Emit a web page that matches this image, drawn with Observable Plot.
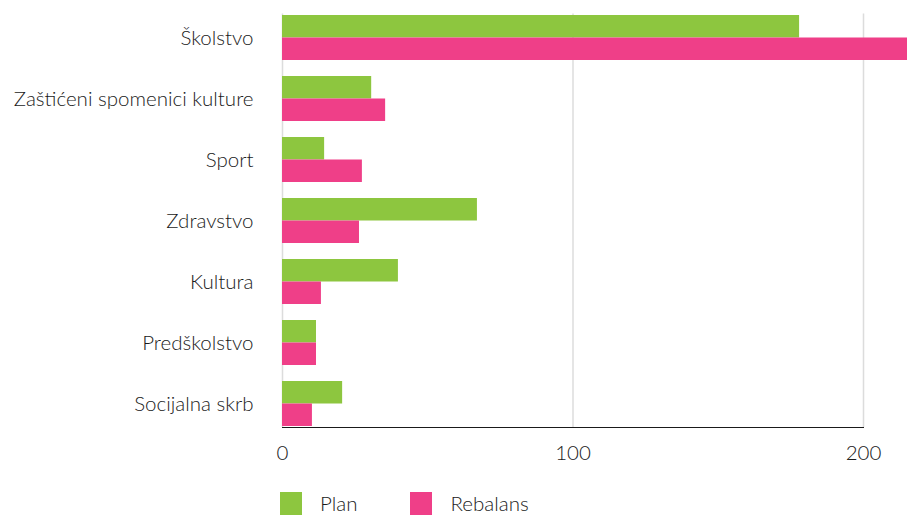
<!DOCTYPE html>
<html>
<head>
<meta charset="utf-8">
<script src="https://cdn.jsdelivr.net/npm/d3@7"></script>
<script src="https://cdn.jsdelivr.net/npm/@observablehq/plot@0.6"></script>
<style>
  html, body { margin: 0; padding: 0; background: #fff; overflow: hidden; width: 907px; height: 515px; }
  #chart svg { overflow: visible; display: block; }
  .legend { position: absolute; top: 491px; left: 280px; display: flex; align-items: center; font-family: Lato, sans-serif; font-weight: 300; font-size: 20.5px; color: #1a1a1a; }
  .legend .item { display: flex; align-items: center; margin-right: 53px; }
  .legend .sw { width: 22px; height: 23px; margin-right: 18px; }
</style>
</head>
<body>
<div id="chart"></div>
<div class="legend" id="legend"></div>
<script>
const categories = ["Školstvo", "Zaštićeni spomenici kulture", "Sport", "Zdravstvo", "Kultura", "Predškolstvo", "Socijalna skrb"];
const series = ["Plan", "Rebalans"];
const planValues = [178, 30.7, 14.5, 67.1, 39.9, 11.7, 20.7];
const rebalansValues = [230, 35.5, 27.5, 26.5, 13.4, 11.7, 10.3];
const xTicks = [0, 100, 200];
const colors = ["#8dc63f", "#ef3f88"];

const planData = categories.map((c, i) => ({category: c, series: "Plan", value: planValues[i]}));
const rebData = categories.map((c, i) => ({category: c, series: "Rebalans", value: rebalansValues[i]}));

const chart = Plot.plot({
  width: 907,
  height: 470,
  marginTop: 13.5,
  marginBottom: 43,
  marginLeft: 282,
  marginRight: 44,
  style: {fontFamily: "Lato, sans-serif", fontSize: "20.5px", fontWeight: 300, color: "#1a1a1a", background: "#fff"},
  x: {domain: [0, 200], ticks: xTicks, tickSize: 0, tickPadding: 18, line: true, label: null, tickFormat: d3.format("d")},
  y: {domain: categories, paddingInner: 0.266, paddingOuter: 0, tickSize: 0, tickPadding: 29, label: null},
  color: {domain: series, range: colors},
  marks: [
    Plot.ruleX(xTicks, {stroke: "#dcdcdc", strokeWidth: 1.5}),
    Plot.barX(planData, {y: "category", x: "value", fill: d => d.series, insetBottom: 22.5}),
    Plot.barX(rebData, {y: "category", x: "value", fill: d => d.series, insetTop: 22.5})
  ]
});
document.getElementById("chart").appendChild(chart);

d3.select(chart).selectAll("[aria-label='x-axis'] path, [aria-label='x-axis'] line").attr("stroke", "#d0d0d0").attr("stroke-width", 1.5);
d3.select(chart).selectAll("[aria-label='x-axis'] text").style("font-size", "23px");

const legend = document.getElementById("legend");
series.forEach((s, i) => {
  const item = document.createElement("div");
  item.className = "item";
  const sw = document.createElement("div");
  sw.className = "sw";
  sw.style.background = colors[i];
  const t = document.createElement("span");
  t.textContent = s;
  item.appendChild(sw);
  item.appendChild(t);
  legend.appendChild(item);
});
</script>
</body>
</html>
